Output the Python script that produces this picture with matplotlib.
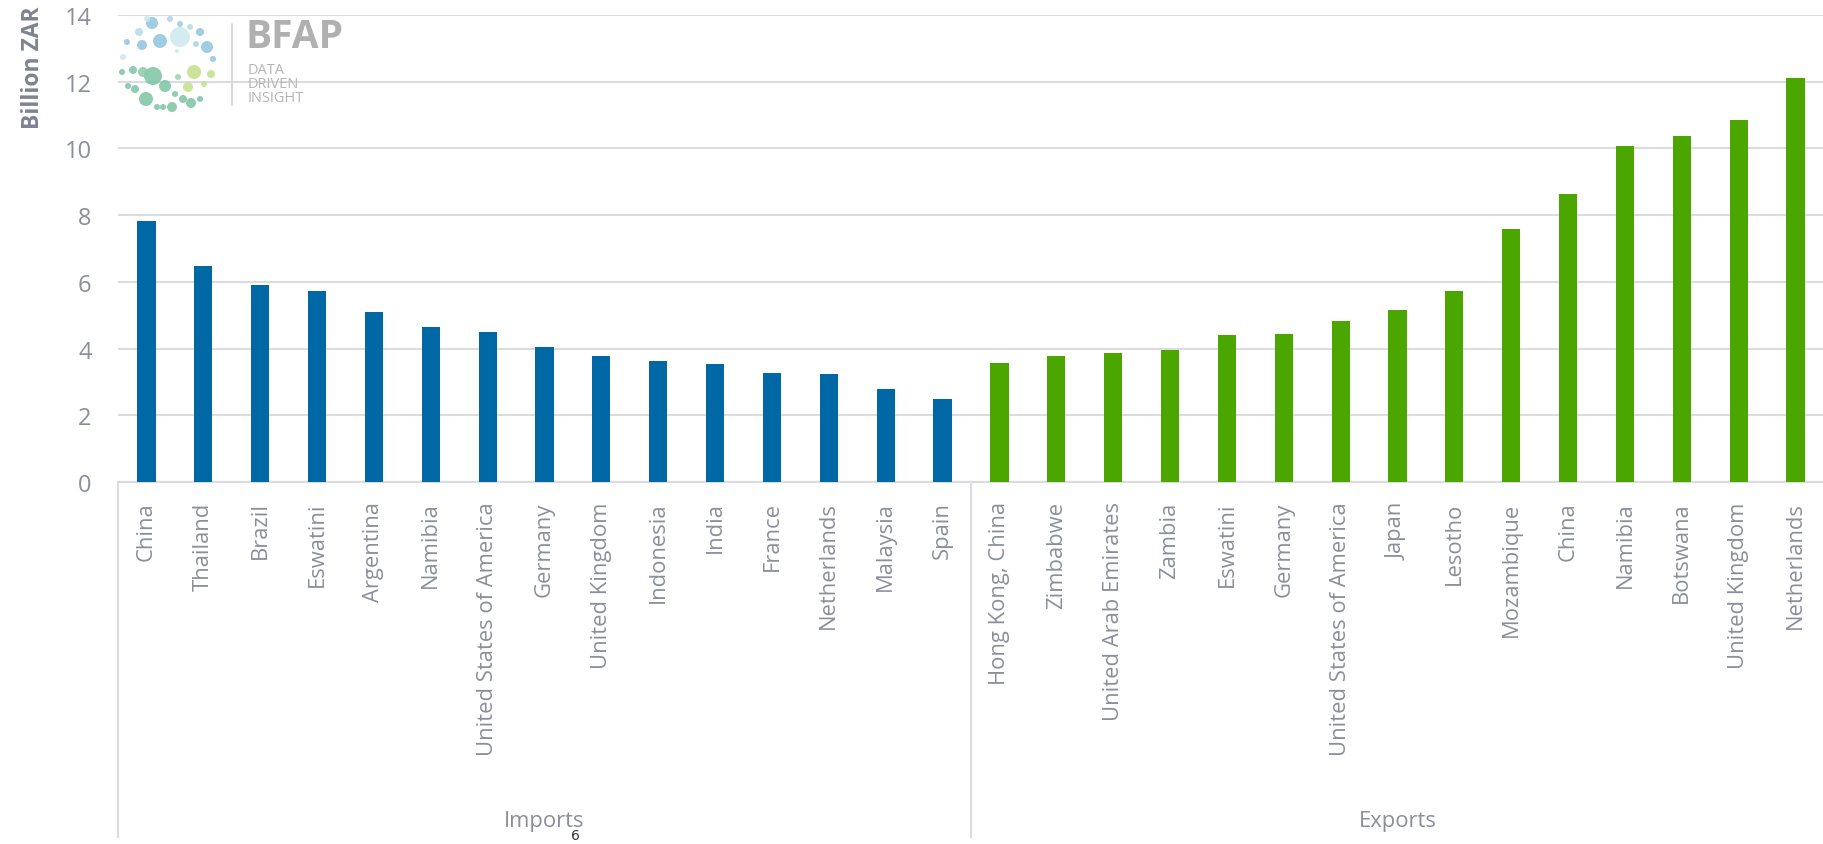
import matplotlib.pyplot as plt
from matplotlib.patches import Circle
from matplotlib.lines import Line2D

# data (billion ZAR)
import_countries = ['China', 'Thailand', 'Brazil', 'Eswatini', 'Argentina', 'Namibia',
                    'United States of America', 'Germany', 'United Kingdom', 'Indonesia',
                    'India', 'France', 'Netherlands', 'Malaysia', 'Spain']
import_values = [7.82, 6.49, 5.90, 5.72, 5.10, 4.65, 4.50, 4.05, 3.78, 3.63, 3.54, 3.28, 3.25, 2.80, 2.48]

export_countries = ['Hong Kong, China', 'Zimbabwe', 'United Arab Emirates', 'Zambia', 'Eswatini',
                    'Germany', 'United States of America', 'Japan', 'Lesotho', 'Mozambique',
                    'China', 'Namibia', 'Botswana', 'United Kingdom', 'Netherlands']
export_values = [3.57, 3.77, 3.88, 3.97, 4.42, 4.44, 4.82, 5.17, 5.74, 7.58, 8.63, 10.08, 10.37, 10.84, 12.11]

groups = ['Imports', 'Exports']
y_ticks = [0, 2, 4, 6, 8, 10, 12, 14]

blue = '#0068A5'
green = '#4CA600'
grey_txt = '#8B8F9C'
grid_c = '#DCDCE0'

W, H = 1824, 845
fig = plt.figure(figsize=(W / 100, H / 100), dpi=100)
fig.patch.set_facecolor('white')

left, top, bottom = 118, 16, 483
ax = fig.add_axes([left / W, 1 - bottom / H, (W - left) / W, (bottom - top) / H])
ax.set_facecolor('none')

labels = import_countries + export_countries
values = import_values + export_values
colors = [blue] * len(import_values) + [green] * len(export_values)
x = list(range(len(labels)))
ax.bar(x, values, width=0.32, color=colors, zorder=3)

ax.set_xlim(-0.5, len(labels) - 0.5)
ax.set_ylim(0, 14)
ax.set_yticks(y_ticks)
ax.yaxis.grid(True, color=grid_c, lw=1.5, zorder=0)
for s in ['top', 'right', 'left']:
    ax.spines[s].set_visible(False)
ax.spines['bottom'].set_color(grid_c)
ax.spines['bottom'].set_linewidth(1.5)
ax.tick_params(axis='y', length=0, labelsize=17, labelcolor=grey_txt, pad=19)
ax.tick_params(axis='x', length=0, labelsize=15.8, labelcolor=grey_txt, pad=14)
ax.set_xticks(x)
ax.set_xticklabels(labels, rotation=90, va='top', ha='center')
for lbl in ax.get_yticklabels() + ax.get_xticklabels():
    lbl.set_fontfamily('Open Sans')

fig.text(33 / W, 1 - 68 / H, 'Billion ZAR', rotation=90, ha='center', va='center',
         fontsize=16.5, fontweight='bold', color='#7F8391', family='Open Sans')

# multi-level category separators and group labels
trans = ax.get_xaxis_transform()
y_low = -(838 - bottom) / (bottom - top)
n_imp = len(import_values)
for xs in [-0.5, n_imp - 0.5]:
    ax.add_line(Line2D([xs, xs], [0, y_low], transform=trans, color=grid_c, lw=1.5, clip_on=False))
ax.text((n_imp - 1) / 2, -(822 - bottom) / (bottom - top), groups[0], transform=trans,
        ha='center', va='center', fontsize=15.8, color=grey_txt, family='Open Sans')
ax.text(n_imp + (len(export_values) - 1) / 2, -(822 - bottom) / (bottom - top), groups[1],
        transform=trans, ha='center', va='center', fontsize=15.8, color=grey_txt, family='Open Sans')

# page number
fig.text(575 / W, 1 - 836 / H, '6', ha='center', va='center', fontsize=10, color='#333333')

# BFAP logo (rough)
lg = fig.add_axes([0, 0, 1, 1], zorder=5)
lg.set_xlim(0, W)
lg.set_ylim(H, 0)
lg.axis('off')
dots = [
    (152, 24, 6, '#8FC3E0'), (170, 20, 3, '#A9D3EA'), (180, 25, 3, '#9CCBE5'), (190, 28, 3, '#B5DAEC'),
    (139, 33, 4, '#B5DAEC'), (160, 42, 7, '#8FC3E0'), (180, 38, 10, '#CDE8F0'), (200, 33, 4, '#8FC3E0'),
    (127, 43, 3, '#8FC3E0'), (142, 46, 5, '#8FC3E0'), (207, 48, 6, '#8FC3E0'), (196, 45, 3, '#A9D3EA'),
    (123, 58, 3, '#C9E6EE'), (213, 60, 3, '#8FC3E0'), (177, 52, 2, '#C9E6EE'), (147, 20, 3, '#C9E6EE'),
    (122, 73, 3, '#7CC3A3'), (133, 71, 4, '#7CC3A3'), (153, 77, 9, '#7CC3A3'), (143, 73, 5, '#8ACBAA'),
    (165, 87, 6, '#7CC3A3'), (178, 78, 3, '#9AD2B0'), (194, 73, 7, '#C3DF8A'), (211, 75, 4, '#C3DF8A'),
    (188, 88, 5, '#C3DF8A'), (204, 85, 3, '#C3DF8A'), (128, 87, 3, '#7CC3A3'), (135, 90, 4, '#7CC3A3'),
    (146, 100, 7, '#7CC3A3'), (157, 108, 3, '#7CC3A3'), (172, 108, 5, '#7CC3A3'), (175, 95, 3, '#7CC3A3'),
    (183, 100, 4, '#7CC3A3'), (191, 104, 5, '#7CC3A3'), (200, 100, 3, '#7CC3A3'), (163, 108, 3, '#7CC3A3'),
]
for cx, cy, r, c in dots:
    lg.add_patch(Circle((cx, cy), r, color=c, alpha=0.85, lw=0))
lg.plot([232, 232], [25, 106], color='#D0D0D0', lw=1.2)
lg.text(246, 37, 'BFAP', fontsize=28, fontweight='bold', color='#B0B0B0', va='center',
        ha='left', family='Open Sans')
for i, t in enumerate(['DATA', 'DRIVEN', 'INSIGHT']):
    lg.text(248, 71 + i * 14, t, fontsize=10.5, color='#B5B5B5', va='center', ha='left',
            family='Open Sans')

fig.savefig('out.png', dpi=100)
